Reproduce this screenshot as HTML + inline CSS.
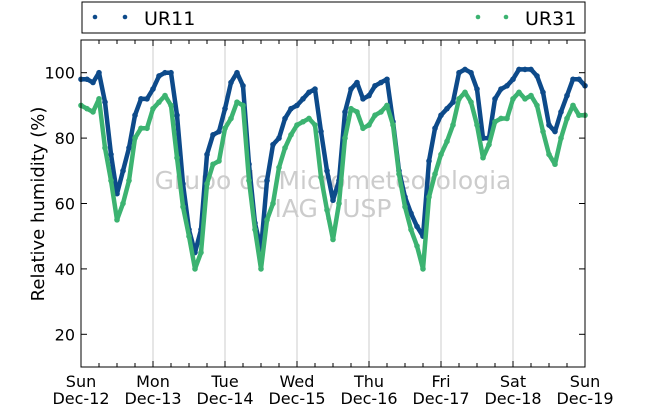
<!DOCTYPE html>
<html><head><meta charset="utf-8"><style>
body{margin:0;background:#fff;}
svg{display:block;font-family:"DejaVu Sans","Liberation Sans",sans-serif;}
</style></head><body>
<svg id="chart" width="650" height="409">
<g id="grid"></g>
<g id="wm">
<text x="333" y="189" font-size="25" fill="#cccccc" text-anchor="middle">Grupo de Micrometeorologia</text>
<text x="333" y="217" font-size="25" fill="#cccccc" text-anchor="middle">IAG / USP</text>
</g>
<g id="series"></g>
<rect x="81" y="40" width="504" height="327" fill="none" stroke="#000" stroke-width="1"/>
<g id="axes"></g>
<text transform="translate(44,204) rotate(-90)" font-size="18" text-anchor="middle">Relative humidity (%)</text>
<g>
<rect x="82" y="2" width="503" height="31" fill="#fff" stroke="#000"/>
<g>
<circle cx="95" cy="17" r="2.3" fill="#0d4a8a"/><circle cx="125" cy="17" r="2.3" fill="#0d4a8a"/>
<text x="144" y="25" font-size="19">UR11</text></g>
<g>
<circle cx="478" cy="17" r="2.3" fill="#3cb371"/><circle cx="506" cy="17" r="2.3" fill="#3cb371"/>
<text x="525" y="25" font-size="19">UR31</text></g>
</g>
</svg>
<script>
const dayLabels = ["Sun","Mon","Tue","Wed","Thu","Fri","Sat","Sun"];
const dateLabels = ["Dec-12","Dec-13","Dec-14","Dec-15","Dec-16","Dec-17","Dec-18","Dec-19"];
const yTicks = [20,40,60,80,100];
// 2-hourly readings, Dec-12 00h to Dec-19 00h
const ur11 = [98,98,97,100,91,75,63,70,77,87,92,92,95,
99,100,100,87,66,52,45,52,75,81,82,89,
97,100,96,72,54,46,67,78,80,86,89,90,
92,94,95,82,70,61,67,88,95,97,92,93,
96,97,98,85,70,62,57,53,50,73,83,87,
89,91,100,101,100,95,80,80,92,95,96,98,
101,101,101,99,94,84,82,88,93,98,98,96];
const ur31 = [90,89,88,92,77,67,55,60,67,80,83,83,89,
91,93,90,74,59,50,40,45,66,72,73,83,
86,91,90,67,52,40,55,60,71,77,81,84,
85,86,84,68,58,49,60,80,89,88,83,84,
87,88,90,84,69,59,52,47,40,62,69,75,
79,84,92,94,91,84,74,78,85,86,86,92,
94,92,93,90,82,75,72,80,86,90,87,87];
const X0=81,X1=585,Y0=367,Y1=40,YMIN=10,YMAX=110,DAYS=7;
const xs = h => X0 + (X1-X0)*h/(DAYS*24);
const ys = v => Y0 - (Y0-Y1)*(v-YMIN)/(YMAX-YMIN);
const NS="http://www.w3.org/2000/svg";
function mk(tag,attrs,parent){const e=document.createElementNS(NS,tag);for(const k in attrs)e.setAttribute(k,attrs[k]);parent.appendChild(e);return e;}
const grid=document.getElementById('grid'),axes=document.getElementById('axes'),ser=document.getElementById('series');
for(let d=1;d<DAYS;d++){
  const g=mk('line',{x1:xs(d*24),x2:xs(d*24),y1:Y1,y2:Y0,stroke:'#cccccc','stroke-width':1},grid);
  
  
}
for(let h=0;h<=DAYS*24;h+=6){
  const L=(h%24===0)?6:4;
  const t1=mk('line',{x1:xs(h),x2:xs(h),y1:Y0,y2:Y0-L,stroke:'#000'},axes);
  
  
  const t2=mk('line',{x1:xs(h),x2:xs(h),y1:Y1,y2:Y1+L,stroke:'#000'},axes);
  
  
}
dayLabels.forEach((lab,i)=>{
  const t=mk('text',{x:xs(i*24),y:387,'font-size':16,'text-anchor':'middle'},axes);
  t.textContent=lab;
  
  
  const t2=mk('text',{x:xs(i*24),y:404,'font-size':16,'text-anchor':'middle'},axes);
  t2.textContent=dateLabels[i];
  
  
});
yTicks.forEach(v=>{
  const l=mk('line',{x1:X0,x2:X0+6,y1:ys(v),y2:ys(v),stroke:'#000'},axes);
  
  
  const r=mk('line',{x1:X1,x2:X1-6,y1:ys(v),y2:ys(v),stroke:'#000'},axes);
  
  
  const t=mk('text',{x:75,y:ys(v)+6,'font-size':16,'text-anchor':'end'},axes);
  t.textContent=v;
  
  
});
function draw(vals,color,name){
  const g=mk('g',{},ser);
  
  
  const pts=vals.map((v,i)=>xs(i*2).toFixed(1)+','+ys(v).toFixed(1)).join(' ');
  const pl=mk('polyline',{points:pts,fill:'none',stroke:color,'stroke-width':4.5,'stroke-linejoin':'round','stroke-linecap':'round'},g);
  
  
  vals.forEach((v,i)=>{
    const c=mk('circle',{cx:xs(i*2),cy:ys(v),r:2.8,fill:color},g);
    
    
  });
}
draw(ur11,'#0d4a8a','series-ur11');
draw(ur31,'#3cb371','series-ur31');
</script>
</body></html>
